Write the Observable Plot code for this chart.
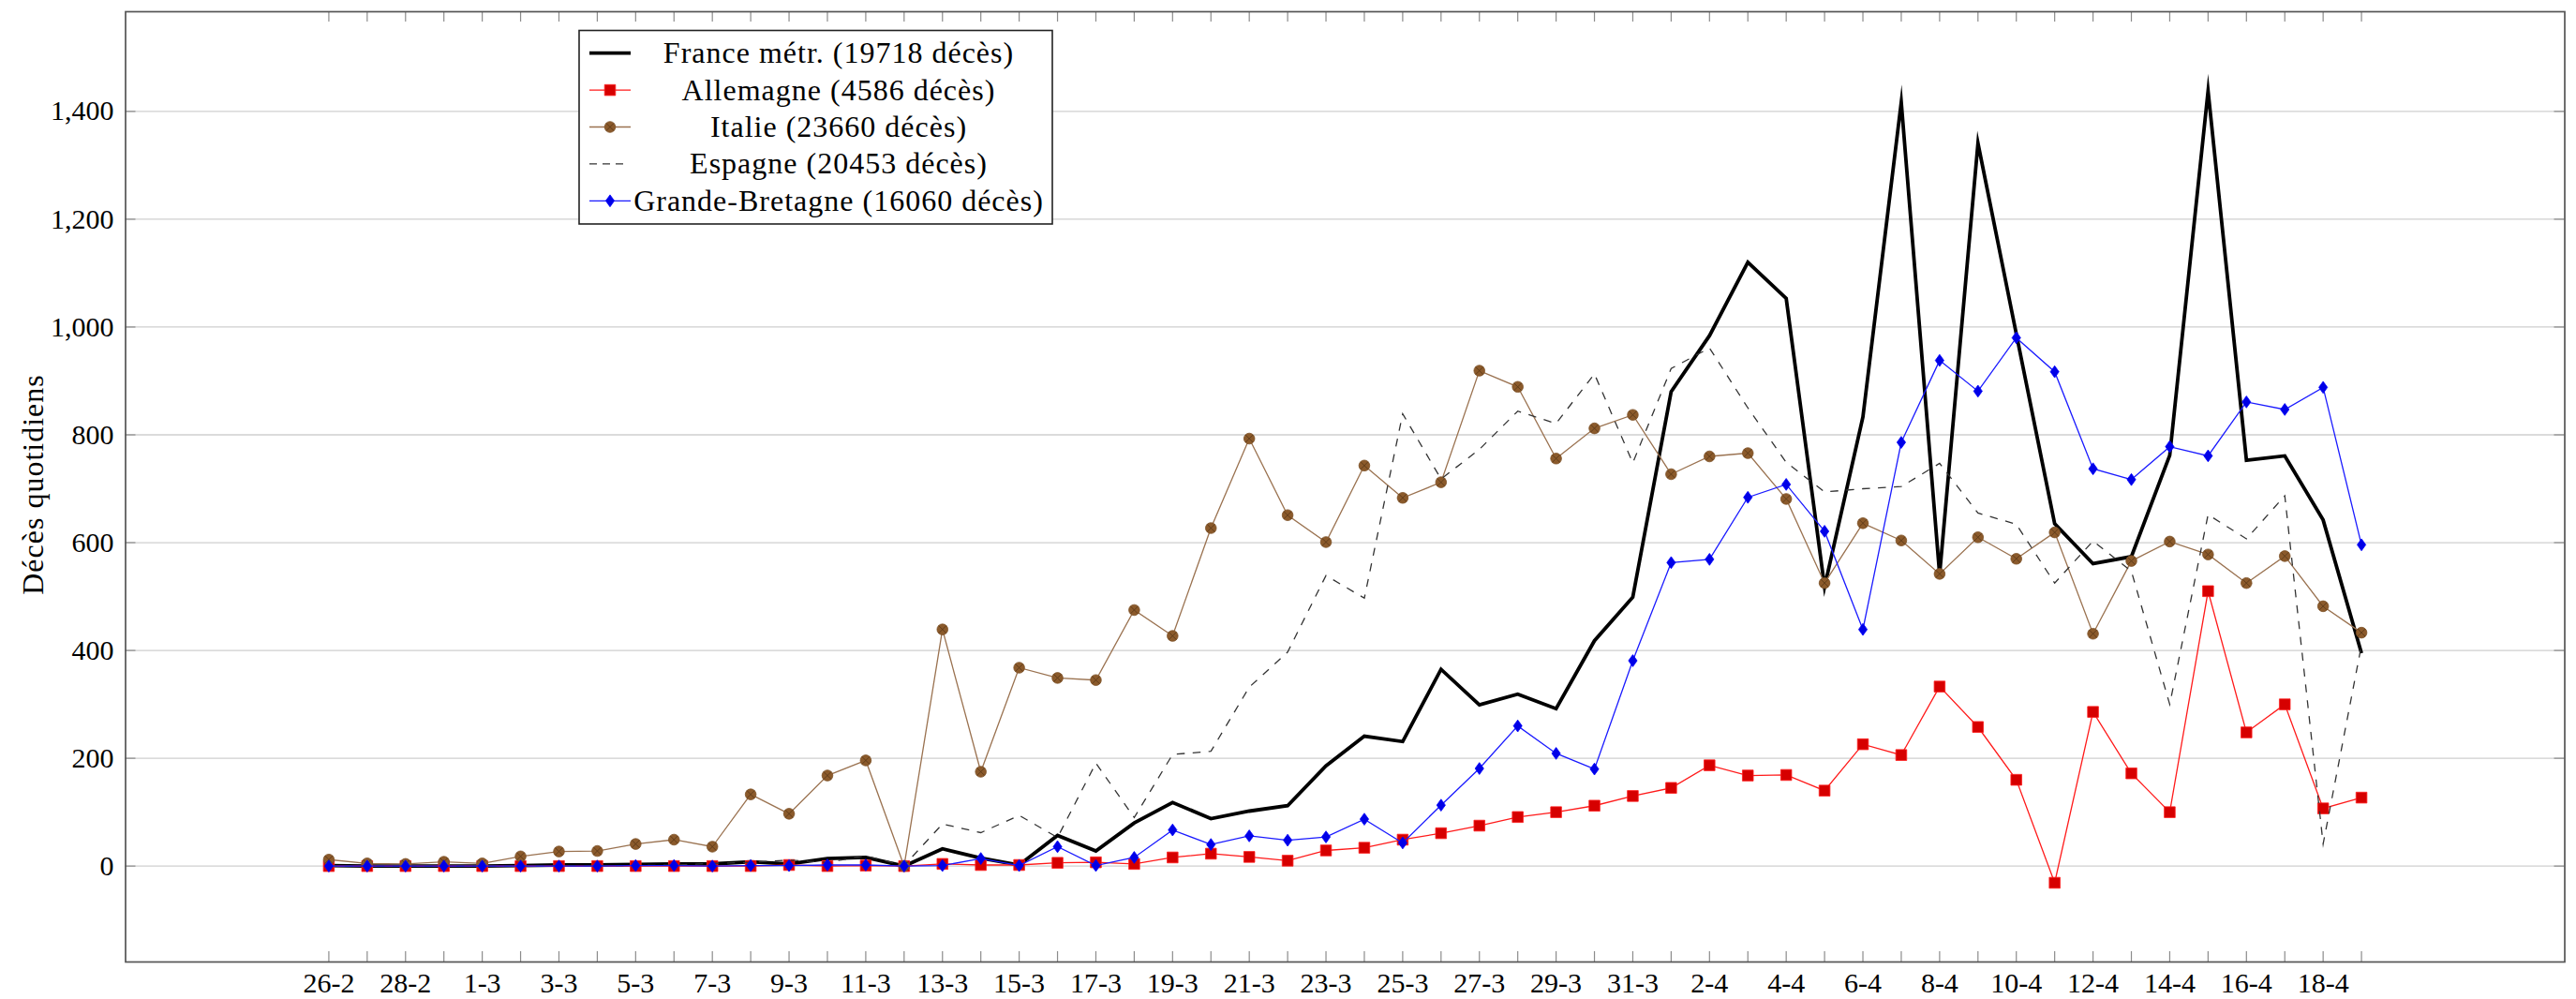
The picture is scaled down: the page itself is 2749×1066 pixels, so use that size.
<!DOCTYPE html>
<html>
<head>
<meta charset="utf-8">
<script src="https://cdn.jsdelivr.net/npm/d3@7"></script>
<script src="https://cdn.jsdelivr.net/npm/@observablehq/plot@0.6"></script>
<style>
html, body { margin: 0; padding: 0; background: #fff; }
#chart { width: 2749px; height: 1066px; }
</style>
</head>
<body>
<div id="chart"></div>
<script>
// ---- data ----
const dates = ["26-2","27-2","28-2","29-2","1-3","2-3","3-3","4-3","5-3","6-3","7-3","8-3","9-3","10-3","11-3","12-3","13-3","14-3","15-3","16-3","17-3","18-3","19-3","20-3","21-3","22-3","23-3","24-3","25-3","26-3","27-3","28-3","29-3","30-3","31-3","1-4","2-4","3-4","4-4","5-4","6-4","7-4","8-4","9-4","10-4","11-4","12-4","13-4","14-4","15-4","16-4","17-4","18-4","19-4"];
const france  = [1,0,0,0,0,1,2,2,3,4,4,8,4,14,16,0,32,15,2,57,28,80,118,88,102,112,186,241,231,365,299,319,292,418,499,880,984,1120,1053,518,833,1417,541,1341,987,635,561,574,762,1438,753,761,642,395];
const germany = [0,0,0,0,0,0,0,0,0,0,0,0,2,0,1,0,4,2,2,6,7,4,16,23,17,10,29,34,49,61,75,91,100,112,130,145,187,168,169,140,226,206,333,258,160,-31,286,172,100,510,248,300,107,127];
const italy   = [12,5,4,8,5,18,27,28,41,49,36,133,97,168,196,0,439,175,368,349,345,475,427,627,793,651,601,743,683,712,919,889,756,812,837,727,760,766,681,525,636,604,542,610,570,619,431,566,602,578,525,575,482,433];
const spain   = [0,0,0,0,0,0,1,1,1,2,5,7,11,7,19,1,78,62,94,53,191,90,207,213,332,397,539,497,839,718,773,844,821,913,748,923,961,850,749,694,700,704,747,655,634,525,603,547,300,652,607,687,41,410];
const uk      = [0,0,0,0,0,0,0,0,1,1,0,1,1,2,2,0,1,14,1,36,1,16,67,40,56,48,54,87,43,113,181,260,209,180,381,563,569,684,708,621,439,786,938,881,980,917,737,717,778,761,861,847,888,596];
const names   = ["France métr.","Allemagne","Italie","Espagne","Grande-Bretagne"];
const totals  = [19718, 4586, 23660, 20453, 16060];
const yTicks  = [0,200,400,600,800,1000,1200,1400];
const xTickIdx = d3.range(0, dates.length, 2);
const yTitle = "Décès quotidiens";

// ---- layout ----
const W = 2749, H = 1066;
const mt = 12, mb = 40, ml = 133.5, mr = 12.5;
const innerH = H - mt - mb, innerW = W - ml - mr;
const n = dates.length;
const all = [...france, ...germany, ...italy, ...spain, ...uk];
const lo = d3.min(all), hi = d3.max(all);
const xpad = 0.1 * (n - 1), ypad = 0.1 * (hi - lo);
const idx = (d, i) => i;
const val = d => d;
const FONT = "'Liberation Serif', 'Times New Roman', serif";

// pgfplots-like marker shapes
const symSquare = {draw(c) { const h = 5.8; c.moveTo(-h,-h); c.lineTo(h,-h); c.lineTo(h,h); c.lineTo(-h,h); c.closePath(); }};
const symDiamond = {draw(c) { c.moveTo(0,-6.4); c.lineTo(4.6,0); c.lineTo(0,6.4); c.lineTo(-4.6,0); c.closePath(); }};
const symCross = {draw(c) { const a = 4; c.moveTo(-a,-a); c.lineTo(a,a); c.moveTo(-a,a); c.lineTo(a,-a); }};

const styles = [
  {stroke: "#000000", width: 3.8},
  {stroke: "#ff1a1a", width: 1.3, symbol: symSquare, fill: "#d60000", mstroke: "#ff2020"},
  {stroke: "#9a7250", width: 1.3, symbol: "circle", fill: "#8b5a2b", mstroke: "#7b4f25", cross: true},
  {stroke: "#333333", width: 1.3, dash: "8.5,8.5"},
  {stroke: "#1a1aff", width: 1.3, symbol: symDiamond, fill: "#0000e6", mstroke: "#0000ff"}
];
const seriesData = [france, germany, italy, spain, uk];

const seriesMarks = [];
seriesData.forEach((arr, k) => {
  const s = styles[k];
  seriesMarks.push(Plot.line(arr, {x: idx, y: val, stroke: s.stroke, strokeWidth: s.width,
    strokeLinejoin: "miter", strokeMiterlimit: 10, strokeLinecap: "butt", strokeDasharray: s.dash}));
  if (s.symbol) {
    seriesMarks.push(Plot.dot(arr, {x: idx, y: val, symbol: s.symbol, r: 5.8, fill: s.fill, stroke: s.mstroke, strokeWidth: 0.8}));
    if (s.cross) seriesMarks.push(Plot.dot(arr, {x: idx, y: val, symbol: symCross, r: 4, fill: "none", stroke: "#5c3a18", strokeWidth: 0.9}));
  }
});

const plot = Plot.plot({
  width: W, height: H,
  marginTop: mt, marginBottom: mb, marginLeft: ml, marginRight: mr,
  style: {fontFamily: FONT, fontSize: "30px", background: "#fff", color: "#000", overflow: "visible"},
  x: {type: "linear", domain: [-xpad, n - 1 + xpad]},
  y: {type: "linear", domain: [lo - ypad, hi + ypad]},
  marks: [
    Plot.ruleY(yTicks, {y: val, stroke: "#cfcfcf", strokeWidth: 1.3}),
    Plot.ruleX(d3.range(n), {x: val, stroke: "#8c8c8c", strokeWidth: 1.2, insetTop: innerH - 11}),
    Plot.ruleX(d3.range(n), {x: val, stroke: "#8c8c8c", strokeWidth: 1.2, insetBottom: innerH - 11}),
    Plot.ruleY(yTicks, {y: val, stroke: "#8c8c8c", strokeWidth: 1.2, insetRight: innerW - 11}),
    Plot.ruleY(yTicks, {y: val, stroke: "#8c8c8c", strokeWidth: 1.2, insetLeft: innerW - 11}),
    ...seriesMarks,
    Plot.frame({stroke: "#555", strokeWidth: 1.7}),
    Plot.axisX({ticks: xTickIdx, tickFormat: i => dates[i], tickSize: 0, tickPadding: 11, label: null}),
    Plot.axisY({ticks: yTicks, tickFormat: d3.format(","), tickSize: 0, tickPadding: 12.5, label: null})
  ]
});

// ---- legend & y title ----
const svg = d3.select(plot);
svg.append("text")
  .attr("transform", "translate(35,517) rotate(-90)")
  .attr("text-anchor", "middle")
  .attr("dominant-baseline", "central")
  .attr("fill", "#000")
  .style("font-family", FONT).style("font-size", "32px").style("letter-spacing", "1px")
  .text(yTitle);

const lg = svg.append("g");
lg.append("rect").attr("x", 618).attr("y", 32.5).attr("width", 505).attr("height", 206.5)
  .attr("fill", "#fff").attr("stroke", "#222").attr("stroke-width", 1.6);
names.forEach((nm, k) => {
  const s = styles[k];
  const cy = 56.7 + k * 39.4;
  lg.append("line").attr("x1", 629).attr("x2", s.dash ? 668 : 673).attr("y1", cy).attr("y2", cy)
    .attr("stroke", s.stroke).attr("stroke-width", s.width)
    .attr("stroke-dasharray", s.dash ? "8,6" : null);
  if (s.symbol) {
    const g = lg.append("g").attr("transform", `translate(651,${cy})`);
    if (s.symbol === "circle") {
      g.append("circle").attr("r", 5.8).attr("fill", s.fill).attr("stroke", s.mstroke).attr("stroke-width", 0.8);
    } else {
      const p = d3.path(); s.symbol.draw(p, 0);
      g.append("path").attr("d", p.toString()).attr("fill", s.fill).attr("stroke", s.mstroke).attr("stroke-width", 0.8);
    }
    if (s.cross) {
      const p = d3.path(); symCross.draw(p, 0);
      g.append("path").attr("d", p.toString()).attr("fill", "none").attr("stroke", "#5c3a18").attr("stroke-width", 0.9);
    }
  }
  lg.append("text").attr("x", 895).attr("y", cy + 10.5).attr("text-anchor", "middle").attr("fill", "#000")
    .style("font-family", FONT).style("font-size", "32px").style("letter-spacing", "1px")
    .text(`${nm} (${totals[k]} décès)`);
});

document.getElementById("chart").appendChild(plot);
</script>
</body>
</html>
